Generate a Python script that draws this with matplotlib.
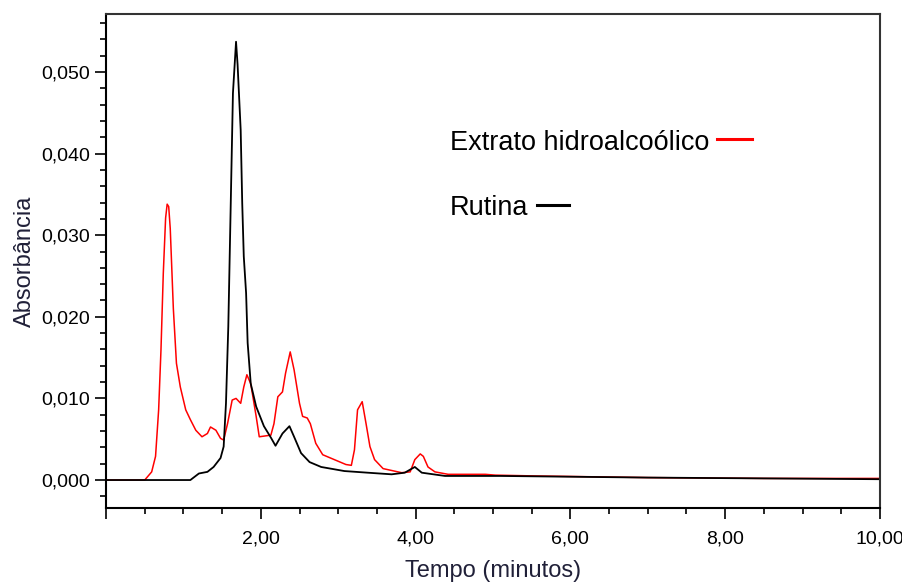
import matplotlib
matplotlib.use("Agg")
import matplotlib.pyplot as plt
from matplotlib.ticker import MultipleLocator, FuncFormatter

plt.rcParams['font.family'] = ['Liberation Sans', 'DejaVu Sans']

# tempo (min) / absorbancia
t_extrato = [0.0, 0.5, 0.59, 0.64, 0.68, 0.71, 0.74, 0.77, 0.79, 0.81, 0.83, 0.85,
             0.87, 0.91, 0.96, 1.03, 1.09, 1.16, 1.24, 1.31, 1.35, 1.42, 1.48, 1.52,
             1.57, 1.63, 1.68, 1.74, 1.78, 1.82, 1.87, 1.94, 1.98, 2.13, 2.17, 2.22,
             2.28, 2.32, 2.38, 2.43, 2.50, 2.54, 2.60, 2.64, 2.71, 2.80, 2.95, 3.10,
             3.17, 3.21, 3.25, 3.31, 3.36, 3.41, 3.47, 3.58, 3.82, 3.93, 3.99, 4.06,
             4.10, 4.16, 4.25, 4.42, 4.90, 5.03, 5.55, 7.0, 8.5, 10.0]
a_extrato = [0.0, 0.0, 0.0010, 0.0029, 0.0086, 0.0159, 0.0253, 0.0321, 0.0338, 0.0335, 0.0308, 0.0259,
             0.0210, 0.0143, 0.0114, 0.0086, 0.0074, 0.0061, 0.0053, 0.0057, 0.0065, 0.0061, 0.0051, 0.0049,
             0.0069, 0.0098, 0.0100, 0.0094, 0.0114, 0.0129, 0.0118, 0.0078, 0.0053, 0.0055, 0.0069, 0.0102,
             0.0108, 0.0131, 0.0157, 0.0135, 0.0094, 0.0078, 0.0076, 0.0069, 0.0045, 0.0031, 0.0025, 0.0019,
             0.0018, 0.0037, 0.0086, 0.0096, 0.0069, 0.0041, 0.0025, 0.0014, 0.0009, 0.0010, 0.0025, 0.0032,
             0.0029, 0.0016, 0.0010, 0.0007, 0.0007, 0.0006, 0.0005, 0.0003, 0.0002, 0.0002]

t_rutina = [0.0, 1.09, 1.20, 1.31, 1.39, 1.48, 1.52, 1.55, 1.58, 1.61, 1.64, 1.68,
            1.70, 1.74, 1.76, 1.78, 1.81, 1.83, 1.87, 1.94, 2.04, 2.13, 2.19, 2.28,
            2.37, 2.43, 2.52, 2.63, 2.78, 3.08, 3.38, 3.69, 3.86, 3.99, 4.08, 4.38,
            5.10, 7.0, 8.5, 10.0]
a_rutina = [0.0, 0.0, 0.0008, 0.0010, 0.0016, 0.0027, 0.0041, 0.0094, 0.0188, 0.0331, 0.0474, 0.0537,
            0.0509, 0.0429, 0.0339, 0.0274, 0.0229, 0.0168, 0.0118, 0.0090, 0.0066, 0.0052, 0.0042, 0.0057,
            0.0066, 0.0053, 0.0033, 0.0022, 0.0016, 0.0011, 0.0009, 0.0007, 0.0009, 0.0016, 0.0009, 0.0005,
            0.0005, 0.0003, 0.0002, 0.0001]

fig = plt.figure(figsize=(9.03, 5.83), dpi=100)
ax = fig.add_axes([0.1174, 0.1286, 0.8571, 0.8474])

ax.plot(t_extrato, a_extrato, color='#ff0000', lw=1.1)
ax.plot(t_rutina, a_rutina, color='black', lw=1.3)

ax.set_xlim(0, 10)
ax.set_ylim(-0.00343, 0.0571)

ax.xaxis.set_major_locator(MultipleLocator(2))
ax.xaxis.set_minor_locator(MultipleLocator(0.5))
ax.yaxis.set_major_locator(MultipleLocator(0.01))
ax.yaxis.set_minor_locator(MultipleLocator(0.002))
ax.xaxis.set_major_formatter(FuncFormatter(lambda v, p: '' if v == 0 else f'{v:.2f}'.replace('.', ',')))
ax.yaxis.set_major_formatter(FuncFormatter(lambda v, p: f'{v:.3f}'.replace('.', ',')))
ax.tick_params(which='major', length=8, width=1.2, labelsize=14, colors='black')
ax.tick_params(which='minor', length=4, width=1.2)
ax.tick_params(axis='x', which='major', pad=8)

for s in ax.spines.values():
    s.set_linewidth(1.5)
ax.spines['top'].set_color('#333333')
ax.spines['right'].set_color('#333333')

ax.set_xlabel('Tempo (minutos)', fontsize=17, color='#202038', labelpad=9)
ax.set_ylabel('Absorbância', fontsize=17, color='#202038', labelpad=4)

# legenda manual: texto seguido do traço
ax.text(0.4444, 0.7247, 'Extrato hidroalcoólico', transform=ax.transAxes,
        fontsize=19.5, va='baseline', ha='left')
ax.plot([0.7894, 0.8346], [0.747, 0.747], transform=ax.transAxes, color='#ff0000', lw=2.2)
ax.text(0.4444, 0.593, 'Rutina', transform=ax.transAxes,
        fontsize=19.5, va='baseline', ha='left')
ax.plot([0.5568, 0.598], [0.6134, 0.6134], transform=ax.transAxes, color='black', lw=2.2)

fig.savefig('out.png', dpi=100)
